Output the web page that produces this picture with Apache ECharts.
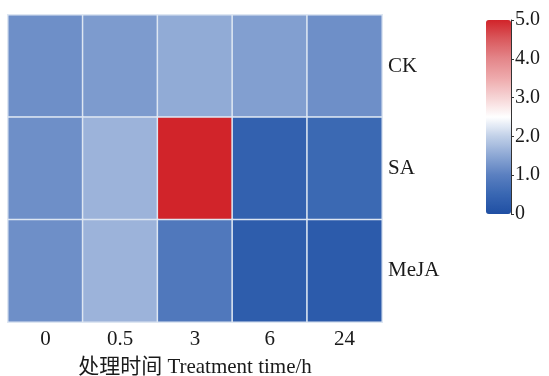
<!DOCTYPE html>
<html>
<head>
<meta charset="utf-8">
<script src="https://cdn.jsdelivr.net/npm/echarts@6/dist/echarts.min.js"></script>
<style>html,body{margin:0;padding:0;background:#fff;}#c{width:549px;height:376px;}</style>
</head>
<body>
<div id="c"></div>
<script>
const times = ['0', '0.5', '3', '6', '24'];
const treatments = ['CK', 'SA', 'MeJA'];
const CK = [1.2, 1.35, 1.55, 1.4, 1.2];
const SA = [1.2, 1.65, 5.0, 0.4, 0.55];
const MeJA = [1.2, 1.65, 0.85, 0.3, 0.25];
const scaleTicks = [0, 1, 2, 3, 4, 5];
const scaleColors = ['#1f4fa3', '#3866b2', '#5a7fc0', '#8ca7d4', '#c1d0e8', '#ffffff', '#f6d4d5', '#eeaaac', '#e4868a', '#da5a5e', '#d1242a'];

const rows = { CK: CK, SA: SA, MeJA: MeJA };
const data = [];
treatments.forEach((t, yi) => {
  rows[t].forEach((v, xi) => data.push([xi, yi, v]));
});

const serif = "'Liberation Serif', 'Times New Roman', 'Noto Sans CJK SC', serif";
const chart = echarts.init(document.getElementById('c'));
chart.setOption({
  animation: false,
  grid: [
    { left: 8, top: 15, right: 167, bottom: 54, outerBoundsMode: 'none', containLabel: false },
    { left: 486, top: 20, width: 25, height: 194, outerBoundsMode: 'none', containLabel: false }
  ],
  xAxis: [
    {
      type: 'category', data: times, gridIndex: 0,
      axisLine: { show: false }, axisTick: { show: false }, splitLine: { show: false },
      axisLabel: { fontFamily: serif, fontSize: 21, color: '#1a1a1a', margin: 7 },
      name: '处理时间 Treatment time/h', nameLocation: 'middle', nameGap: 35,
      nameTextStyle: { fontFamily: serif, fontSize: 21, color: '#1a1a1a' }
    },
    { type: 'value', gridIndex: 1, show: false, min: 0, max: 1 }
  ],
  yAxis: [
    {
      type: 'category', data: treatments, gridIndex: 0, inverse: true, position: 'right',
      axisLine: { show: false }, axisTick: { show: false }, splitLine: { show: false },
      axisLabel: { fontFamily: serif, fontSize: 21, color: '#1a1a1a', margin: 6, align: 'left' }
    },
    {
      type: 'value', gridIndex: 1, min: scaleTicks[0], max: scaleTicks[scaleTicks.length - 1], interval: 1,
      position: 'right', z: 10,
      axisLine: { show: true, onZero: false, lineStyle: { color: '#333', width: 1 } },
      axisTick: { show: true, length: 3, lineStyle: { color: '#333' } },
      splitLine: { show: false },
      axisLabel: {
        fontFamily: serif, fontSize: 20, color: '#1a1a1a', margin: 4,
        formatter: v => (v === 0 ? '0' : v.toFixed(1))
      }
    }
  ],
  visualMap: {
    type: 'continuous', min: 0, max: 5, seriesIndex: 0,
    orient: 'vertical', left: 486, top: 20, itemWidth: 25, itemHeight: 194,
    padding: 0, calculable: false, hoverLink: false, text: null, z: 2,
    inRange: { color: scaleColors }
  },
  series: [
    {
      type: 'heatmap', xAxisIndex: 0, yAxisIndex: 0, data: data,
      itemStyle: { borderColor: '#dde6f2', borderWidth: 1.5 },
      emphasis: { disabled: true }
    },
    { type: 'line', xAxisIndex: 1, yAxisIndex: 1, data: [], silent: true }
  ]
});
</script>
</body>
</html>
